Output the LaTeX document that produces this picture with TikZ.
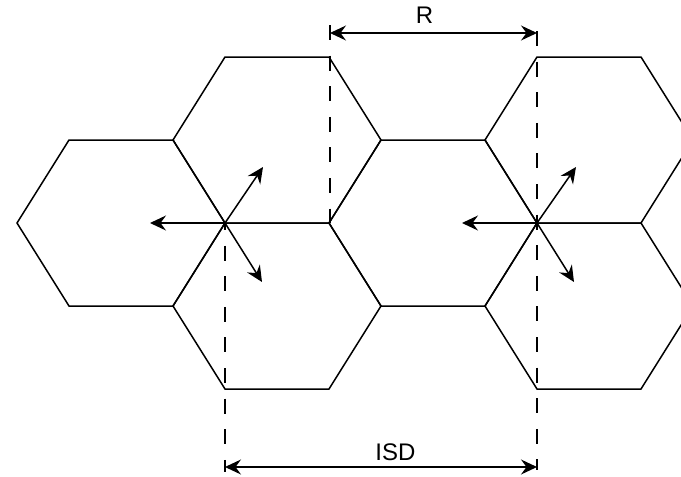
\documentclass[tikz,border=0pt]{standalone}
\usepackage{fontspec}
\setmainfont{Liberation Sans}
\usetikzlibrary{arrows.meta}
\tikzset{
  cell/.style={draw=black, line width=1.5pt, line join=miter},
  guide/.style={draw=black, line width=1.5pt, dash pattern=on 15pt off 15.6pt},
  beam/.style={draw=black, line width=1.5pt, -{Stealth[length=16pt,width=15pt,inset=5.5pt]}},
  dimline/.style={draw=black, line width=1.3pt, {Stealth[length=16pt,width=15pt,inset=5.5pt]}-{Stealth[length=16pt,width=15pt,inset=5.5pt]}},
  lbl/.style={font=\fontsize{24}{28}\selectfont, inner sep=0pt},
  hexcell/.pic={\draw[cell] (104,0) -- (52,83) -- (-52,83) -- (-104,0) -- (-52,-83) -- (52,-83) -- cycle;}
}
\begin{document}
\begin{tikzpicture}[x=1pt,y=-1pt]
\useasboundingbox (0,0) rectangle (681,477);
\clip (0,0) rectangle (681,477);
% hexagonal cells
\coordinate (cA) at (121,223);
\coordinate (cB) at (277,140);
\coordinate (cC) at (277,306);
\coordinate (cD) at (433,223);
\coordinate (cE) at (589,140);
\coordinate (cF) at (589,306);
\foreach \c in {cA,cB,cC,cD,cE,cF} { \pic at (\c) {hexcell}; }
% stations
\coordinate (s1) at (225,223);
\coordinate (s2) at (537,223);
% dashed guides
\coordinate (g1t) at (330,25);
\coordinate (g1b) at (330,223);
\coordinate (g2t) at (537,31);
\coordinate (g2b) at (537,470);
\coordinate (g3b) at (225,472);
\draw[guide] (g1t) -- (g1b);
\draw[guide] (g2t) -- (g2b);
\draw[guide, dash phase=8pt] (s1) -- (g3b);
% sector arrows
\coordinate (s1w) at (150,223);
\coordinate (s1ne) at (263,167);
\coordinate (s1se) at (262,282);
\coordinate (s2w) at (462,223);
\coordinate (s2ne) at (576,167);
\coordinate (s2se) at (574,282);
\draw[beam] (s1) -- (s1w);
\draw[beam] (s1) -- (s1ne);
\draw[beam] (s1) -- (s1se);
\draw[beam] (s2) -- (s2w);
\draw[beam] (s2) -- (s2ne);
\draw[beam] (s2) -- (s2se);
% dimension arrows
\coordinate (rl) at (330,33);
\coordinate (rr) at (537,33);
\coordinate (il) at (225,467);
\coordinate (ir) at (537,467);
\draw[dimline] (rl) -- (rr);
\draw[dimline] (il) -- (ir);
\node[lbl] (rlab) at (424.5,15) {R};
\node[lbl] (isdlab) at (395.5,452) {ISD};
\end{tikzpicture}
\end{document}
